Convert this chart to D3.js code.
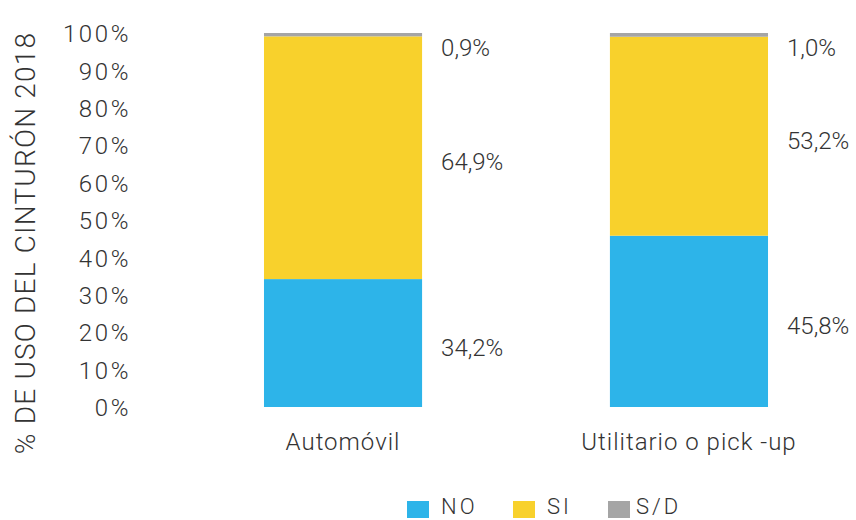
<!DOCTYPE html>
<html>
<head>
<meta charset="utf-8">
<script src="https://cdn.jsdelivr.net/npm/d3@7"></script>
<style>
  body { margin: 0; background: #fff; }
  text { font-family: Roboto, "Noto Sans", sans-serif; font-weight: 300; fill: #333; }
</style>
</head>
<body>
<div class="render"></div>
<script>
'use strict';

// valores
var categorias = ['Automóvil', 'Utilitario o pick -up'];
var series = ['NO', 'SI', 'S/D'];
var valoresNO = [34.2, 45.8];
var valoresSI = [64.9, 53.2];
var valoresSD = [0.9, 1.0];
var ticks = [0, 10, 20, 30, 40, 50, 60, 70, 80, 90, 100];
var colores = ['#2DB4E9', '#F8D12C', '#A5A5A5'];

var w = 856, h = 520;

var filas = categorias.map(function (c, i) {
   return { cat: c, 'NO': valoresNO[i], 'SI': valoresSI[i], 'S/D': valoresSD[i] };
});
var stack = d3.stack().keys(series)(filas);

var x = d3.scaleBand().domain(categorias).range([170, 862]).paddingInner(0.543).paddingOuter(0.2717);
var y = d3.scaleLinear().domain([0, 100]).range([407, 33]);
var color = d3.scaleOrdinal().domain(series).range(colores);

var svg = d3.select('.render').append('svg').attr('width', w).attr('height', h);

// eje y
var yAxis = d3.axisLeft(y).tickValues(ticks).tickSize(0).tickPadding(0)
   .tickFormat(function (d) { return d + '%'; });
var gy = svg.append('g').attr('transform', 'translate(131,0)').call(yAxis);
gy.select('.domain').remove();
gy.selectAll('text').style('font-size', '24px').style('letter-spacing', '2.6px')
   .style('font-family', 'Roboto, sans-serif').attr('dy', '0.36em').attr('fill', '#333');

svg.append('text').text('% DE USO DEL CINTURÓN 2018')
   .attr('transform', 'translate(35,243)rotate(270)')
   .attr('text-anchor', 'middle')
   .style('font-size', '28px').style('letter-spacing', '1.2px');

// barras apiladas
svg.selectAll('g.serie').data(stack).enter().append('g').attr('class', 'serie')
   .attr('fill', function (d) { return color(d.key); })
   .selectAll('rect').data(function (d) { return d; }).enter().append('rect')
   .attr('x', function (d) { return x(d.data.cat); })
   .attr('width', x.bandwidth())
   .attr('y', function (d) { return y(d[1]); })
   .attr('height', function (d) { return y(d[0]) - y(d[1]); });

// etiquetas de valores
stack.forEach(function (s) {
   svg.selectAll(null).data(s).enter().append('text')
      .attr('x', function (d) { return x(d.data.cat) + x.bandwidth() + 19; })
      .attr('y', function (d) {
         if (s.key === 'S/D') return y(d[1]) + 14;
         return y((d[0] + d[1]) / 2) + 4;
      })
      .attr('dy', '0.36em')
      .style('font-size', '24px')
      .text(function (d) { return d3.format('.1f')(d[1] - d[0]).replace('.', ',') + '%'; });
});

// categorías
svg.selectAll('text.cat').data(categorias).enter().append('text').attr('class', 'cat')
   .attr('x', function (d) { return x(d) + x.bandwidth() / 2; })
   .attr('y', 441).attr('dy', '0.36em')
   .attr('text-anchor', 'middle')
   .style('font-size', '24px').style('letter-spacing', '1px')
   .text(function (d) { return d; });

// leyenda
var legX = [407, 513, 608];
var leg = svg.selectAll('g.leg').data(series).enter().append('g').attr('class', 'leg')
   .attr('transform', function (d, i) { return 'translate(' + legX[i] + ',501)'; });
leg.append('rect').attr('width', 22).attr('height', 17).attr('fill', function (d) { return color(d); });
leg.append('text').attr('x', function (d, i) { return i === 2 ? 28 : 34; }).attr('y', 13)
   .style('font-size', '22px').style('letter-spacing', '3px')
   .text(function (d) { return d; });
</script>
</body>
</html>
